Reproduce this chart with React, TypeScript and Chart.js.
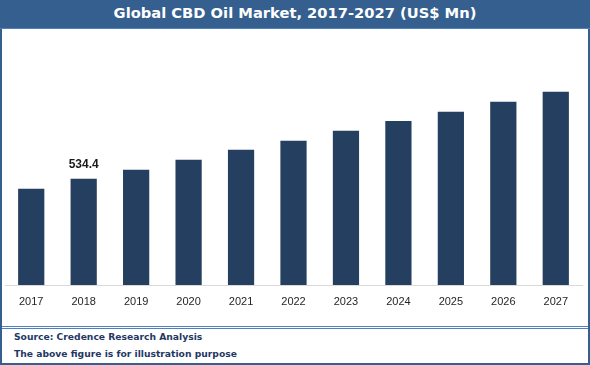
import React, { useEffect, useRef } from "react";
import { Chart, registerables } from "chart.js";

Chart.register(...registerables);

const TITLE = "Global CBD Oil Market, 2017-2027 (US$ Mn)";
const years = ["2017", "2018", "2019", "2020", "2021", "2022", "2023", "2024", "2025", "2026", "2027"];
const marketValues = [484.5, 534.4, 580.0, 630.0, 680.0, 725.0, 775.0, 825.0, 871.0, 921.0, 971.0];
const labelledIndex = 1;
const footerLines = ["Source: Credence Research Analysis", "The above figure is for illustration purpose"];

const BAR_COLOR = "#253f60";
const FRAME = "#355f8f";
const LIGHT_LINE = "#4f81bd";

const valueLabelPlugin = {
  id: "valueLabel",
  afterDatasetsDraw(chart: any) {
    const meta = chart.getDatasetMeta(0);
    const el = meta.data[labelledIndex];
    if (!el) return;
    const ctx = chart.ctx;
    ctx.save();
    ctx.font = "bold 12px 'Liberation Sans', Arial, sans-serif";
    ctx.fillStyle = "#1a1a1a";
    ctx.textAlign = "center";
    ctx.textBaseline = "middle";
    ctx.fillText(marketValues[labelledIndex].toFixed(1), el.x, el.y - 14);
    ctx.restore();
  },
};

export default function App() {
  const canvasRef = useRef<HTMLCanvasElement | null>(null);

  useEffect(() => {
    document.body.style.margin = "0";
    const canvas = canvasRef.current;
    if (!canvas) return;
    const chart = new Chart(canvas, {
      type: "bar",
      data: {
        labels: years,
        datasets: [
          {
            data: marketValues,
            backgroundColor: BAR_COLOR,
            borderWidth: 0,
            barPercentage: 0.5,
            categoryPercentage: 1,
          },
        ],
      },
      options: {
        animation: false,
        responsive: false,
        maintainAspectRatio: false,
        devicePixelRatio: 1,
        layout: { padding: { left: 3, right: 6, top: 0, bottom: 0 } },
        plugins: {
          legend: { display: false },
          tooltip: { enabled: false },
          title: { display: false },
        },
        scales: {
          x: {
            grid: { display: false, drawTicks: false },
            border: { display: true, color: "#d9d9d9", width: 1 },
            ticks: {
              color: "#262626",
              font: { family: "'Liberation Sans', Arial, sans-serif", size: 11 },
              padding: 10,
              maxRotation: 0,
              autoSkip: false,
            },
            afterFit: (scale: any) => {
              scale.height = 41;
            },
          },
          y: {
            display: false,
            min: 0,
            max: 1287,
          },
        },
      },
      plugins: [valueLabelPlugin],
    });
    return () => chart.destroy();
  }, []);

  const abs = (s: React.CSSProperties): React.CSSProperties => ({ position: "absolute", ...s });

  return (
    <div style={{ position: "fixed", left: 0, top: 0, width: 590, height: 365, background: "#ffffff", overflow: "hidden" }}>
      <div
        style={abs({
          left: 0,
          top: 0,
          width: 590,
          height: 28,
          background: FRAME,
          color: "#ffffff",
          fontFamily: "'DejaVu Sans', Verdana, sans-serif",
          fontWeight: "bold",
          fontSize: 14.7,
          lineHeight: "26px",
          textAlign: "center",
          whiteSpace: "nowrap",
        })}
      >
        {TITLE}
      </div>
      <div style={abs({ left: 0, top: 28, width: 590, height: 1, background: LIGHT_LINE })} />
      <div style={abs({ left: 0, top: 29, width: 2, height: 336, background: FRAME })} />
      <div style={abs({ left: 588, top: 29, width: 2, height: 336, background: FRAME })} />
      <div style={abs({ left: 0, top: 363, width: 590, height: 2, background: FRAME })} />
      <div style={abs({ left: 2, top: 29, width: 586, height: 297 })}>
        <canvas ref={canvasRef} width={586} height={297} style={{ display: "block", width: 586, height: 297 }} />
      </div>
      <div style={abs({ left: 2, top: 326, width: 586, height: 1, background: LIGHT_LINE })} />
      <div style={abs({ left: 2, top: 328, width: 586, height: 1, background: LIGHT_LINE })} />
      {footerLines.map((t, i) => (
        <div
          key={i}
          style={abs({
            left: 14,
            top: 329 + i * 17,
            height: 16,
            lineHeight: "16px",
            fontFamily: "'DejaVu Sans', Verdana, sans-serif",
            fontWeight: "bold",
            fontSize: 9.2,
            color: "#1f3864",
            whiteSpace: "nowrap",
          })}
        >
          {t}
        </div>
      ))}
    </div>
  );
}
